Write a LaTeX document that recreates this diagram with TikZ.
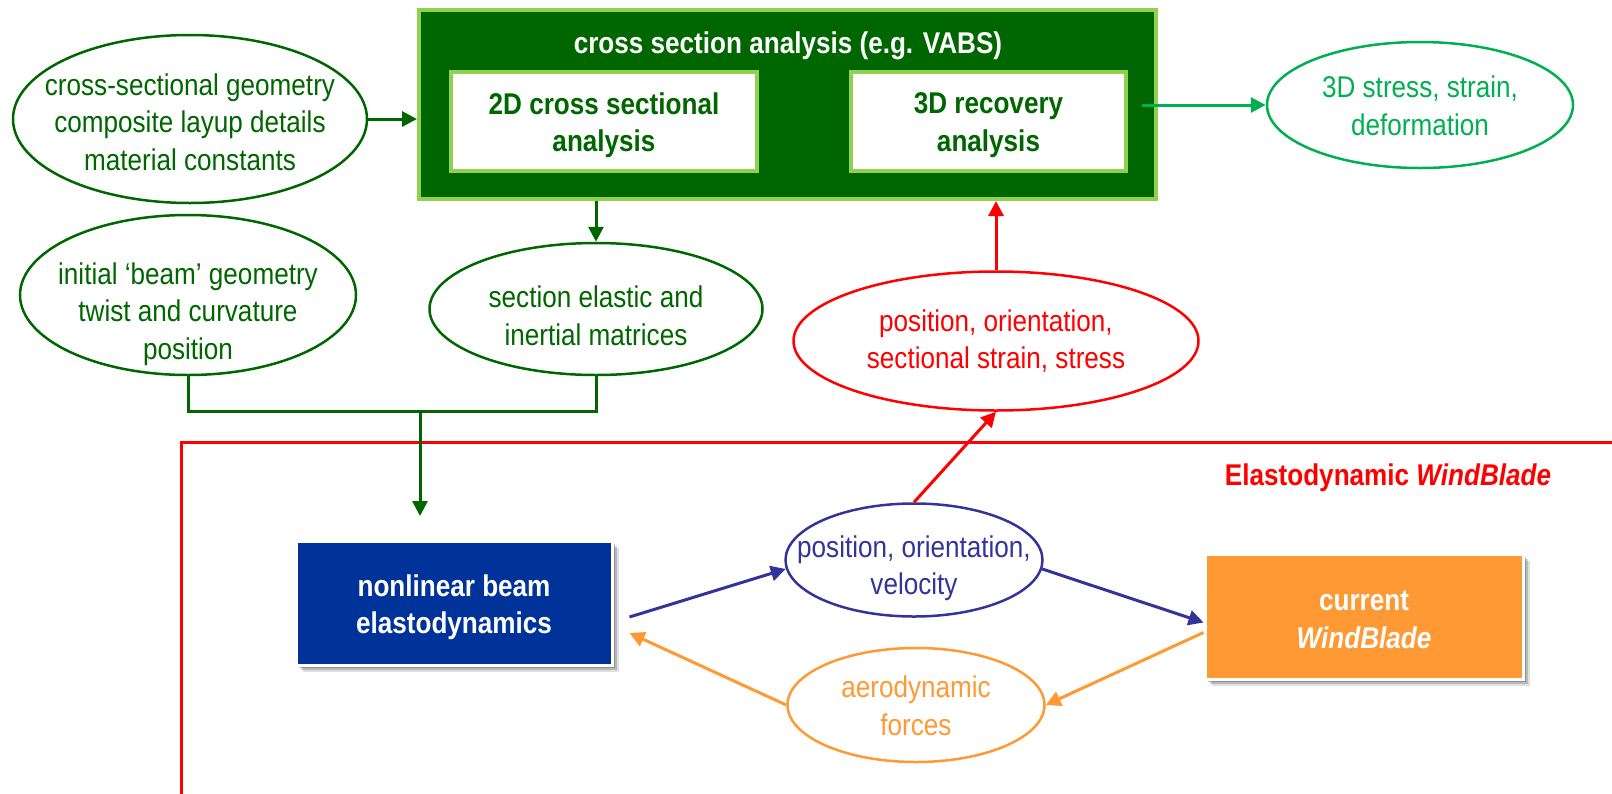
\documentclass[tikz,border=0pt]{standalone}
\usepackage{fontspec}
\setmainfont{Liberation Sans}[FakeStretch=0.87]
\usetikzlibrary{shapes.geometric,arrows.meta,shadows}
\definecolor{dgreen}{HTML}{006600}
\definecolor{lgreen}{HTML}{92D050}
\definecolor{bgreen}{HTML}{00B050}
\definecolor{navy}{HTML}{333399}
\definecolor{bluefill}{HTML}{003399}
\definecolor{orng}{HTML}{FF9933}
\definecolor{rd}{HTML}{FF0000}
\newcommand{\fsz}{\fontsize{30}{37.5}\selectfont}
\tikzset{
  txt/.style={font=\fsz, align=center, inner sep=0pt},
  btxt/.style={font=\fsz\bfseries, align=center, inner sep=0pt},
  ell/.style={ellipse, draw, line width=2.5pt, inner sep=0pt},
  arr/.style={line width=3pt, -{Triangle[length=15pt,width=15pt]}},
  ln/.style={line width=3pt},
  inbox/.style={draw=lgreen, fill=white, line width=3.5pt, inner sep=0pt},
  solidbox/.style={draw=white, line width=3pt, inner sep=0pt,
    drop shadow={shadow xshift=7pt, shadow yshift=-7pt, opacity=0.12, fill=black},
    drop shadow={shadow xshift=5pt, shadow yshift=-5pt, opacity=0.18, fill=black},
    drop shadow={shadow xshift=3pt, shadow yshift=-3pt, opacity=0.22, fill=black}},
}
\begin{document}
\begin{tikzpicture}[x=1pt,y=-1pt]
\useasboundingbox (0,0) rectangle (1612,793);

% cross section analysis box
\node[draw=lgreen, fill=dgreen, line width=4pt, inner sep=0pt,
      minimum width=737pt, minimum height=189pt] (big) at (787.5,104.5) {};
\node[btxt, text=white] (title) at (788,46) {cross section analysis (e.g. VABS)};
\node[inbox, minimum width=306pt, minimum height=99pt] (b2d) at (604,121.5) {};
\node[btxt, text=dgreen] (b2dt) at (604,125) {2D cross sectional\\analysis};
\node[inbox, minimum width=275pt, minimum height=99pt] (b3d) at (988.5,121.5) {};
\node[btxt, text=dgreen] (b3dt) at (988.5,125) {3D recovery\\analysis};

% ellipses
\node[ell, draw=dgreen, minimum width=354pt, minimum height=168pt] (e1) at (190,119) {};
\node[txt, text=dgreen] (e1t) at (190,122) {cross-sectional geometry\\composite layup details\\material constants};
\node[ell, draw=dgreen, minimum width=336pt, minimum height=160pt] (e2) at (188,295) {};
\node[txt, text=dgreen] (e2t) at (188,314) {initial ‘beam’ geometry\\twist and curvature\\position};
\node[ell, draw=dgreen, minimum width=333pt, minimum height=132pt] (e3) at (596,309) {};
\node[txt, text=dgreen] (e3t) at (596,316) {section elastic and\\inertial matrices};
\node[ell, draw=rd, minimum width=405pt, minimum height=139pt] (e4) at (996,341) {};
\node[txt, text=rd] (e4t) at (996,341) {position, orientation,\\sectional strain, stress};
\node[ell, draw=bgreen, minimum width=306pt, minimum height=126pt] (e5) at (1420,105) {};
\node[txt, text=bgreen] (e5t) at (1420,106) {3D stress, strain,\\deformation};
\node[ell, draw=navy, minimum width=257pt, minimum height=113pt] (e6) at (914,560) {};
\node[txt, text=navy] (e6t) at (914,568) {position, orientation,\\velocity};
\node[ell, draw=orng, minimum width=257pt, minimum height=114pt] (e7) at (916,705) {};
\node[txt, text=orng] (e7t) at (916,706) {aerodynamic\\forces};

% Elastodynamic frame
\coordinate (fbl) at (181,800);
\coordinate (ftl) at (181,442);
\coordinate (ftr) at (1620,442);
\draw[rd, line width=3pt] (fbl) -- (ftl) -- (ftr);
\node[btxt, text=rd] (lbl) at (1388,478) {Elastodynamic \textit{WindBlade}};

% solid boxes
\node[solidbox, fill=bluefill, minimum width=316pt, minimum height=124pt] (bb) at (454,603) {};
\node[btxt, text=white] (bbt) at (454,607) {nonlinear beam\\elastodynamics};
\node[solidbox, fill=orng, minimum width=318pt, minimum height=125pt] (ob) at (1364,616.5) {};
\node[btxt, text=white] (obt) at (1364,620) {current\\\textit{WindBlade}};

% connectors (green)
\draw[arr, dgreen] (e1.east) -- (e1.east -| big.west);
\draw[arr, bgreen] ([xshift=14pt]b3d.east |- e5.west) -- (e5.west);
\draw[arr, dgreen] (e3.north |- big.south) -- (e3.north);
\coordinate (j) at (420,411);
\coordinate (jt) at (420,516);
\draw[ln, dgreen] (e2.south) -- (e2.south |- j) -- (e3.south |- j) -- (e3.south);
\draw[arr, dgreen] (j) -- (jt);

% red
\draw[arr, rd] (e4.north) -- (e4.north |- big.south);
\draw[arr, rd] (e6.north) -- (e4.south);

% blue / orange loop
\draw[arr, navy] ([xshift=16pt,yshift=-14pt]bb.east) -- (e6.184);
\draw[arr, navy] (e6.356) -- ([yshift=-6pt]ob.west);
\draw[arr, orng] ([yshift=-16pt]ob.west) -- (e7.east);
\draw[arr, orng] (e7.west) -- ([xshift=16pt,yshift=-30pt]bb.east);
\end{tikzpicture}
\end{document}
